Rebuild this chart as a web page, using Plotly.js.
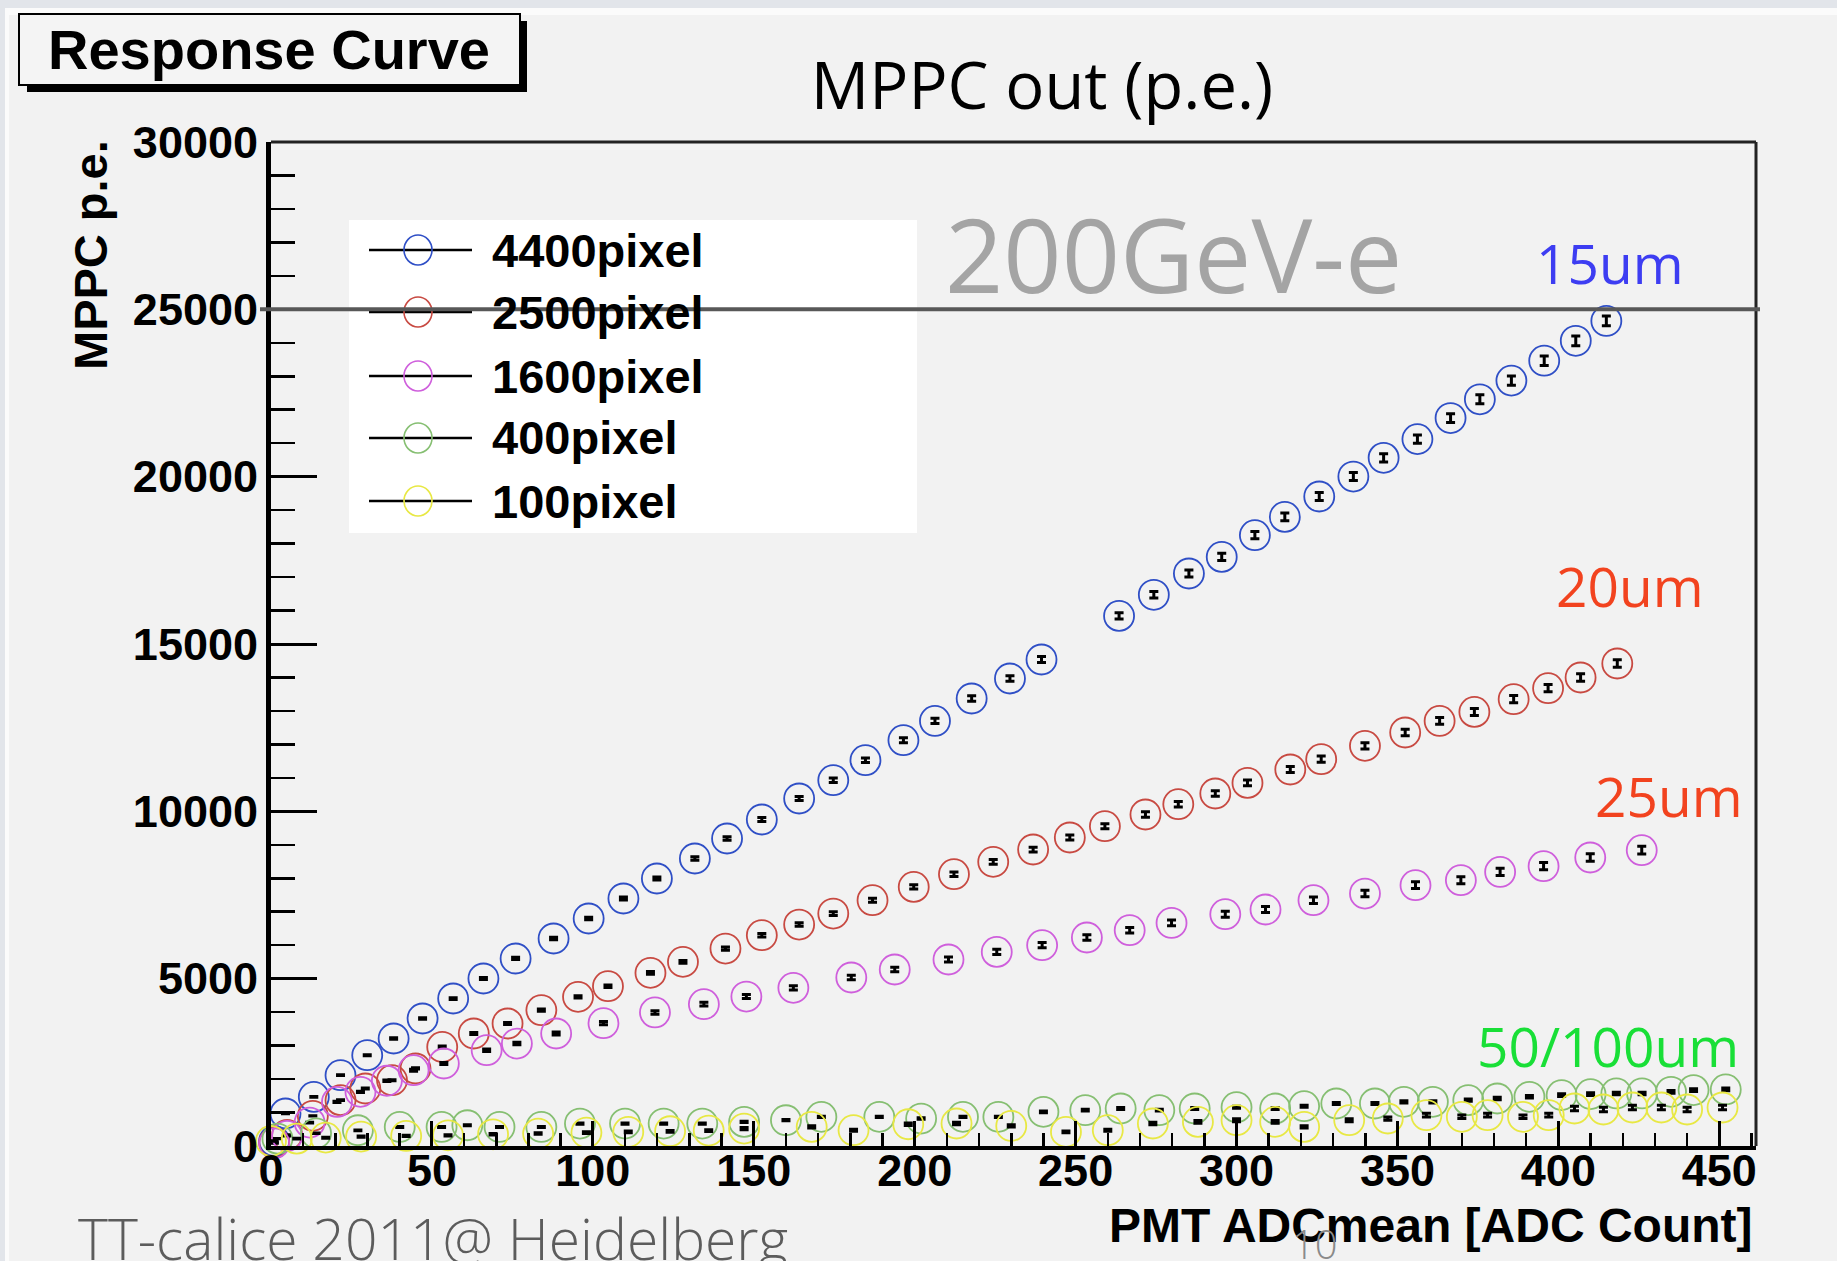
<!DOCTYPE html>
<html><head><meta charset="utf-8">
<script src="https://cdn.plot.ly/plotly-3.0.1.min.js"></script>
<style>html,body{margin:0;padding:0;background:#f2f2f2;overflow:hidden}#chart{width:1837px;height:1261px}</style>
</head><body><div id="chart"></div>
<script>
// ---------- data ----------
const seriesNames = ['4400pixel', '2500pixel', '1600pixel', '400pixel', '100pixel'];
const seriesColors = ['#2f4fc6', '#c84a42', '#cf5fdc', '#86bf72', '#e8e844'];

const x4400 = [1, 4.5, 13.3, 21.6, 29.9, 38.1, 47.1, 56.6, 66, 76, 87.8, 98.7, 109.5, 119.9, 131.7, 141.7, 152.5, 164.1, 174.7, 184.7, 196.5, 206.3, 217.7, 229.6, 239.4, 263.5, 274.3, 285.2, 295.4, 305.7, 315.0, 325.7, 336.3, 345.7, 356.2, 366.5, 375.6, 385.4, 395.6, 405.4, 414.9];
const y4400 = [150, 971, 1467, 2116, 2713, 3212, 3810, 4407, 5005, 5603, 6200, 6798, 7395, 7993, 8591, 9188, 9756, 10383, 10930, 11528, 12125, 12702, 13371, 13969, 14537, 15840, 16470, 17106, 17603, 18251, 18798, 19408, 20003, 20562, 21122, 21751, 22311, 22870, 23465, 24059, 24654];

const x2500 = [1, 5, 13, 21.6, 29.3, 37.6, 44.9, 53.2, 63, 73.5, 84, 95.4, 104.7, 117.9, 128, 141.2, 152.5, 164.1, 174.7, 186.9, 199.7, 212.2, 224.4, 236.8, 248.2, 259.1, 271.7, 281.9, 293.4, 303.4, 316.7, 326.3, 339.9, 352.4, 363.1, 373.9, 386.1, 396.8, 406.9, 418.3];
const y2500 = [100, 330, 900, 1370, 1718, 1966, 2316, 2961, 3361, 3660, 4058, 4456, 4775, 5173, 5502, 5900, 6299, 6617, 6946, 7344, 7742, 8121, 8490, 8859, 9218, 9556, 9905, 10213, 10533, 10850, 11250, 11558, 11956, 12355, 12702, 12971, 13351, 13679, 13999, 14417];

const x1600 = [1, 5, 12, 20.5, 27.8, 36, 44.3, 53.7, 67, 76.4, 88.6, 103.3, 119.3, 134.5, 147.7, 162.3, 180.3, 193.8, 210.5, 225.5, 239.6, 253.5, 266.8, 279.8, 296.5, 309, 323.9, 339.9, 355.6, 369.7, 381.9, 395.4, 409.9, 425.9];
const y1600 = [80, 300, 700, 1318, 1617, 1950, 2265, 2465, 2862, 3062, 3361, 3670, 3990, 4237, 4466, 4725, 5035, 5274, 5573, 5800, 6000, 6230, 6448, 6666, 6926, 7066, 7344, 7544, 7793, 7942, 8190, 8360, 8620, 8839];

const x400 = [2, 14, 27, 40, 53, 61, 71, 84, 96, 110, 122, 134, 147, 160, 171, 189, 202, 215, 226, 240, 253, 264, 276, 287, 300, 312, 321, 331, 343, 352, 361, 372, 381, 391, 401, 410, 418, 426, 435, 442, 452];
const y400 = [220, 380, 470, 570, 570, 620, 570, 570, 670, 670, 670, 670, 720, 770, 870, 870, 820, 870, 870, 1020, 1070, 1120, 1070, 1120, 1160, 1120, 1190, 1270, 1270, 1320, 1320, 1370, 1420, 1470, 1520, 1550, 1570, 1570, 1620, 1670, 1690];

const x100 = [0, 8, 17, 28, 42, 55, 69, 83, 98, 111, 124, 136, 147, 168, 181, 198, 213, 230, 247, 260, 274, 288, 300, 312, 321, 335, 347, 359, 370, 378, 389, 397, 405, 414, 423, 432, 440, 451];
const y100 = [150, 220, 250, 280, 300, 320, 350, 370, 400, 420, 440, 460, 520, 571, 472, 650, 672, 600, 422, 472, 672, 720, 771, 721, 571, 771, 821, 920, 871, 920, 871, 920, 1120, 1090, 1150, 1150, 1090, 1150];

const errPercent = [0.6, 0.8, 1.3, 2.5, 6];
const refLevel = 25000;      // 200 GeV electron line
const xRange = [0, 461.4];
const yRange = [0, 30000];

const chartTitle = 'MPPC out (p.e.)';
const xTitle = 'PMT ADCmean [ADC Count]';
const yTitle = 'MPPC p.e.';
const boxTitle = 'Response Curve';
const energyLabel = '200GeV-e';
const pitchLabels = ['15um', '20um', '25um', '50/100um'];
const footerText = 'TT-calice 2011@ Heidelberg';
const pageNumber = '10';

// ---------- layout helpers ----------
const W = 1837, H = 1261, ML = 271, MR = 81, MT = 142, MB = 115;
const PW = W - ML - MR, PH = H - MT - MB;
const px = x => (x - ML) / PW;
const py = y => (H - MB - y) / PH;

const ARIALB = {family: 'Liberation Sans, Arial, sans-serif', color: '#000', weight: 700};
const GILL = 'Open Sans, Lato, sans-serif';

const xs = [x4400, x2500, x1600, x400, x100];
const ys = [y4400, y2500, y1600, y400, y100];

const traces = xs.map((xv, i) => ({
  type: 'scatter', mode: 'markers', name: seriesNames[i],
  x: xv, y: ys[i], cliponaxis: false, showlegend: false,
  marker: {symbol: 'circle-open', size: 30, color: seriesColors[i], line: {width: 1.8}},
  error_y: {type: 'percent', value: errPercent[i], color: '#000', thickness: 3, width: 4.5}
}));

const shapes = [
  // page decoration
  {type: 'rect', xref: 'paper', yref: 'paper', x0: px(0), x1: px(W), y0: py(0), y1: py(8), fillcolor: '#e2e5ea', line: {width: 0}, layer: 'below'},
  {type: 'rect', xref: 'paper', yref: 'paper', x0: px(0), x1: px(W), y0: py(8), y1: py(15), fillcolor: '#fbfbfb', line: {width: 0}, layer: 'below'},
  {type: 'rect', xref: 'paper', yref: 'paper', x0: px(0), x1: px(5), y0: py(0), y1: py(H), fillcolor: '#e2e5ea', line: {width: 0}, layer: 'below'},
  {type: 'rect', xref: 'paper', yref: 'paper', x0: px(5), x1: px(9), y0: py(8), y1: py(H), fillcolor: '#fbfbfb', line: {width: 0}, layer: 'below'},
  // Response Curve box with shadow
  {type: 'rect', xref: 'paper', yref: 'paper', x0: px(27), x1: px(527), y0: py(21), y1: py(92), fillcolor: '#000', line: {width: 0}},
  {type: 'rect', xref: 'paper', yref: 'paper', x0: px(19), x1: px(520), y0: py(14), y1: py(85), fillcolor: '#f4f4f4', line: {color: '#000', width: 2}},
  // frame top / right
  {type: 'line', xref: 'paper', yref: 'paper', x0: 0, x1: 1, y0: 1, y1: 1, line: {color: '#222', width: 3}},
  {type: 'line', xref: 'paper', yref: 'paper', x0: 1, x1: 1, y0: 0, y1: 1, line: {color: '#222', width: 3}},
  // legend box
  {type: 'rect', xref: 'paper', yref: 'paper', x0: px(349), x1: px(917), y0: py(220), y1: py(533), fillcolor: '#ffffff', line: {width: 0}}
];

const legendRows = [250, 312, 376, 438, 501];
const annotations = [];
legendRows.forEach((ry, i) => {
  shapes.push({type: 'line', xref: 'paper', yref: 'paper', x0: px(369), x1: px(472), y0: py(ry), y1: py(ry), line: {color: '#000', width: 2.5}});
  shapes.push({type: 'circle', xref: 'paper', yref: 'paper', xsizemode: 'pixel', ysizemode: 'pixel',
    xanchor: px(418), yanchor: py(ry), x0: -14, x1: 14, y0: -15, y1: 15,
    fillcolor: 'rgba(0,0,0,0)', line: {color: seriesColors[i], width: 1.6}});
  annotations.push({xref: 'paper', yref: 'paper', x: px(490), y: py(ry), xanchor: 'left', yanchor: 'middle',
    text: seriesNames[i], showarrow: false, font: Object.assign({}, ARIALB, {size: 47})});
});

// reference line at 25000 (drawn over the legend)
shapes.push({type: 'line', xref: 'paper', yref: 'y', x0: px(260), x1: px(1760), y0: refLevel, y1: refLevel, line: {color: '#585858', width: 4}});

annotations.push(
  {xref: 'paper', yref: 'paper', x: px(269), y: py(49), xanchor: 'center', yanchor: 'middle', text: boxTitle, showarrow: false, font: Object.assign({}, ARIALB, {size: 56})},
  {xref: 'paper', yref: 'paper', x: px(1173), y: py(253), xanchor: 'center', yanchor: 'middle', text: energyLabel, showarrow: false, font: {family: GILL, size: 102, color: '#a4a4a4'}},
  {xref: 'paper', yref: 'paper', x: px(1610), y: py(262), xanchor: 'center', yanchor: 'middle', text: pitchLabels[0], showarrow: false, font: {family: GILL, size: 55, color: '#3d3df2'}},
  {xref: 'paper', yref: 'paper', x: px(1630), y: py(585), xanchor: 'center', yanchor: 'middle', text: pitchLabels[1], showarrow: false, font: {family: GILL, size: 55, color: '#f2431f'}},
  {xref: 'paper', yref: 'paper', x: px(1669), y: py(795), xanchor: 'center', yanchor: 'middle', text: pitchLabels[2], showarrow: false, font: {family: GILL, size: 55, color: '#f2431f'}},
  {xref: 'paper', yref: 'paper', x: px(1608), y: py(1045), xanchor: 'center', yanchor: 'middle', text: pitchLabels[3], showarrow: false, font: {family: GILL, size: 55, color: '#19df37'}},
  {xref: 'paper', yref: 'paper', x: px(1755), y: py(1225), xanchor: 'right', yanchor: 'middle', text: xTitle, showarrow: false, font: Object.assign({}, ARIALB, {size: 48})},
  {xref: 'paper', yref: 'paper', x: px(90), y: py(138), xanchor: 'center', yanchor: 'top', textangle: -90, text: yTitle, showarrow: false, font: Object.assign({}, ARIALB, {size: 47})},
  {xref: 'paper', yref: 'paper', x: px(76), y: py(1238), xanchor: 'left', yanchor: 'middle', text: footerText, showarrow: false, font: {family: GILL, size: 57, color: '#5c5c5c', weight: 300}},
  {xref: 'paper', yref: 'paper', x: px(1315), y: py(1243), xanchor: 'center', yanchor: 'middle', text: pageNumber, showarrow: false, font: {family: GILL, size: 40, color: '#8a8a8a', weight: 300}}
);

const tickFont = Object.assign({}, ARIALB, {size: 45});

const layout = {
  width: W, height: H,
  margin: {l: ML, r: MR, t: MT, b: MB, pad: 0},
  paper_bgcolor: '#f2f2f2', plot_bgcolor: '#f2f2f2',
  showlegend: false,
  title: {text: chartTitle, x: 1042 / W, xref: 'container', xanchor: 'center', y: 1 - 86 / H, yref: 'container', yanchor: 'middle',
    font: {family: GILL, size: 65, color: '#000'}},
  xaxis: {
    range: xRange, dtick: 50, tick0: 0, ticks: 'inside', ticklen: 25, tickwidth: 3, tickcolor: '#000',
    minor: {dtick: 10, ticks: 'inside', ticklen: 13, tickwidth: 2.5, tickcolor: '#000'},
    showline: true, linewidth: 4, linecolor: '#000', mirror: false,
    showgrid: false, zeroline: false, tickfont: tickFont, tickformat: 'd', ticklabelstandoff: -18
  },
  yaxis: {
    range: yRange, dtick: 5000, tick0: 0, ticks: 'inside', ticklen: 46, tickwidth: 3, tickcolor: '#000',
    minor: {dtick: 1000, ticks: 'inside', ticklen: 24, tickwidth: 2.5, tickcolor: '#000'},
    showline: true, linewidth: 5, linecolor: '#000', mirror: false,
    showgrid: false, zeroline: false, tickfont: tickFont, tickformat: 'd', ticklabelstandoff: -1
  },
  shapes: shapes,
  annotations: annotations
};

Plotly.newPlot('chart', traces, layout, {staticPlot: true, displayModeBar: false});
</script>
</body></html>
